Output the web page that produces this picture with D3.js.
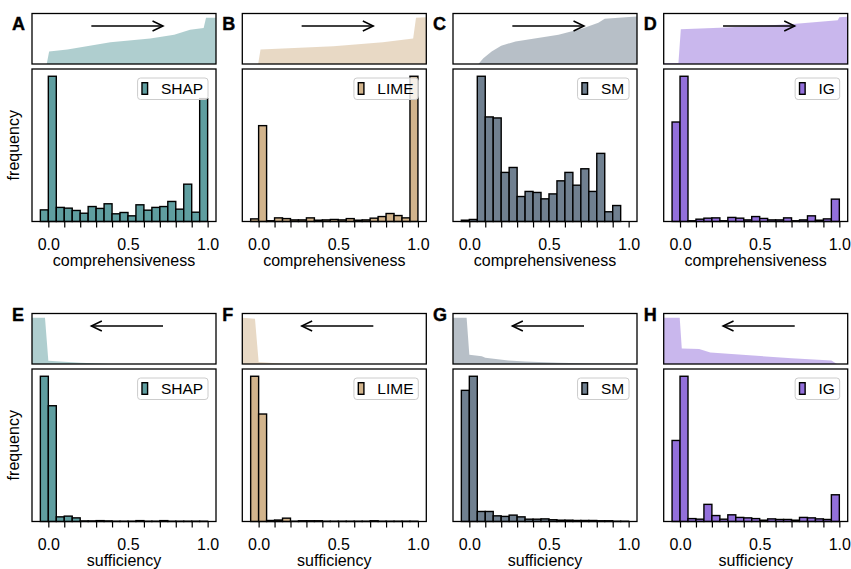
<!DOCTYPE html>
<html>
<head>
<meta charset="utf-8">
<script src="https://cdn.jsdelivr.net/npm/d3@7"></script>
<style>
body { margin: 0; background: #fff; }
svg { display: block; font-family: "Liberation Sans", Arial, sans-serif; }
.tick text { font-size: 16px; fill: #000; }
.label { font-size: 16px; fill: #000; }
.letter { font-size: 18px; font-weight: bold; fill: #000; stroke: #000; stroke-width: 0.4; }
.legend-text { font-size: 15.5px; fill: #000; }
</style>
</head>
<body>
<svg id="chart" width="851" height="569"></svg>
<script>
// histogram bins: left edges, width 0.05
const BIN_LEFT = [-0.05, 0.0, 0.05, 0.1, 0.15, 0.2, 0.25, 0.3, 0.35, 0.4, 0.45,
                  0.5, 0.55, 0.6, 0.65, 0.7, 0.75, 0.8, 0.85, 0.9, 0.95];
const BIN_WIDTH = 0.05;

const METHODS = ["SHAP", "LIME", "SM", "IG"];
const COLORS = ["#5f9ea0", "#d2b48c", "#708090", "#9370db"];
const ROW_LABELS = ["comprehensiveness", "sufficiency"];
const LETTERS = [["A", "B", "C", "D"], ["E", "F", "G", "H"]];

// relative frequencies (tallest bar = 100)
const COMP_SHAP = [8, 100, 9.7, 9.2, 7.6, 5.7, 10.3, 9, 12.2, 5.3, 6.2, 3.9, 11.5, 7.8, 9.7, 10.3, 13.8, 8.5, 25.7, 6.4, 84.6];
const COMP_LIME = [1.8, 66, 0.5, 2.5, 2, 1.1, 1.1, 2.5, 0.9, 1.1, 1.4, 1.1, 2, 0.9, 1.1, 2.3, 3.4, 5.5, 4.1, 2.5, 100];
const COMP_SM = [0.9, 1.4, 100, 72, 71.3, 33.8, 37.2, 17.2, 20.7, 20, 15.6, 19, 28, 33.8, 25, 36.3, 20.7, 46.9, 6.7, 11, 0];
const COMP_IG = [68.5, 100, 0.5, 1.6, 2.3, 2.5, 0.5, 2.8, 2.3, 1.1, 3.4, 2.1, 1.1, 1.1, 2.5, 0.5, 1.1, 3.9, 0.9, 1.8, 15.4];
const SUFF_SHAP = [100, 79.7, 3.2, 3.7, 2.5, 0.4, 0.4, 0.6, 0.4, 0.2, 0.2, 0.2, 0.6, 0.2, 0.2, 0.6, 0.2, 0.2, 0.2, 0.2, 0.2];
const SUFF_LIME = [100, 74, 0.7, 1, 2.3, 0.2, 0.5, 0.5, 0.5, 0.2, 0.2, 0.2, 0.2, 0.2, 0.2, 0.5, 0.2, 0.2, 0.2, 0.2, 0.2];
const SUFF_SM = [90.3, 100, 6.9, 6.9, 3.9, 3.5, 4.4, 3.2, 1.6, 1.6, 1.8, 1.2, 0.9, 0.9, 0.7, 0.7, 0.7, 0.5, 0.5, 0.2, 0.2];
const SUFF_IG = [55.8, 100, 2, 1.6, 11.8, 4.1, 1.6, 4.6, 2.8, 2.5, 2, 0.9, 1.8, 1.4, 1.4, 0.9, 2.8, 2.5, 1.8, 1.4, 18.4];

// cumulative curves in the small top panels: [value, fraction]
const COMP_SHAP_CURVE = [[-0.1025, 0], [-0.01, 0], [0.005, 0.26], [0.12, 0.30], [0.39, 0.45], [0.64, 0.53],
                         [0.79, 0.61], [0.89, 0.71], [0.975, 0.75], [0.99, 0.96], [1.0525, 0.96]];
const COMP_LIME_CURVE = [[-0.1025, 0], [-0.003, 0], [0.012, 0.30], [0.47, 0.37], [0.78, 0.45],
                         [0.97, 0.53], [0.988, 0.96], [1.0525, 0.97]];
const COMP_SM_CURVE = [[-0.1025, 0], [0.057, 0], [0.088, 0.12], [0.14, 0.26], [0.20, 0.38], [0.29, 0.47],
                       [0.41, 0.53], [0.56, 0.61], [0.71, 0.74], [0.81, 0.86], [0.85, 0.94], [0.98, 0.97], [1.0525, 0.99]];
const COMP_IG_CURVE = [[-0.1025, 0.02], [-0.01, 0.02], [0.005, 0.72], [0.29, 0.76], [0.71, 0.83],
                       [0.99, 0.91], [1.0, 0.97], [1.0525, 0.98]];
const SUFF_SHAP_CURVE = [[-0.1025, 0.96], [-0.021, 0.96], [0.0, 0.07], [0.2, 0.027], [0.39, 0], [1.0525, 0]];
const SUFF_LIME_CURVE = [[-0.1025, 0.96], [-0.023, 0.94], [0.0, 0.04], [0.155, 0.007], [0.22, 0], [1.0525, 0]];
const SUFF_SM_CURVE = [[-0.1025, 0.96], [-0.017, 0.96], [0.0, 0.19], [0.078, 0.16], [0.1, 0.13], [0.245, 0.073],
                       [0.35, 0.053], [0.56, 0.027], [0.77, 0.013], [0.98, 0.007], [1.0525, 0]];
const SUFF_IG_CURVE = [[-0.1025, 0.96], [-0.002, 0.96], [0.011, 0.32], [0.12, 0.31], [0.19, 0.24], [0.39, 0.19],
                       [0.70, 0.12], [0.95, 0.073], [0.985, 0], [1.0525, 0]];

// arrows in top panels: [from, to] in value units, at height ARROW_Y
const COMP_ARROW = [0.27, 0.72];
const SUFF_ARROW = [0.72, 0.27];
const ARROW_Y = 0.79;

const MAJOR_TICKS = [0.0, 0.5, 1.0];
const TICK_LABELS = ["0.0", "0.5", "1.0"];
const MINOR_TICKS = [0.1, 0.2, 0.3, 0.4, 0.6, 0.7, 0.8, 0.9];
const X_DOMAIN = [-0.1025, 1.0525];

const HISTS = [[COMP_SHAP, COMP_LIME, COMP_SM, COMP_IG], [SUFF_SHAP, SUFF_LIME, SUFF_SM, SUFF_IG]];
const CURVES = [[COMP_SHAP_CURVE, COMP_LIME_CURVE, COMP_SM_CURVE, COMP_IG_CURVE],
                [SUFF_SHAP_CURVE, SUFF_LIME_CURVE, SUFF_SM_CURVE, SUFF_IG_CURVE]];
const ARROWS = [COMP_ARROW, SUFF_ARROW];

// layout
const COL_X = [32, 242.3, 453, 663.7];
const PANEL_W = 184;
const ROW_TOP = [13.5, 313.5];
const TOP_H = 50.5;
const GAP = 5;
const MAIN_H = 152.5;
const LETTER_BASELINE = [30, 320.5];

var svg = d3.select("#chart");

var defs = svg.append("defs");
defs.append("marker")
    .attr("id", "arrowhead")
    .attr("markerUnits", "userSpaceOnUse")
    .attr("viewBox", "-13 -7 15 14")
    .attr("refX", 0)
    .attr("refY", 0)
    .attr("markerWidth", 15)
    .attr("markerHeight", 14)
    .attr("orient", "auto")
    .append("path")
    .attr("d", "M-10.5,-5L0,0L-10.5,5")
    .attr("fill", "none")
    .attr("stroke", "#000")
    .attr("stroke-width", 1.5);

for (var r = 0; r < 2; r++) {
    for (var c = 0; c < 4; c++) {
        var x0 = COL_X[c];
        var topY = ROW_TOP[r];
        var mainY = topY + TOP_H + GAP;
        var color = COLORS[c];

        var x = d3.scaleLinear().domain(X_DOMAIN).range([x0, x0 + PANEL_W]);

        // ---- small top panel
        var yTop = d3.scaleLinear().domain([0, 1.05]).range([topY + TOP_H, topY]);
        var area = d3.area()
            .x(function(d) { return x(d[0]); })
            .y0(yTop(0))
            .y1(function(d) { return yTop(d[1]); });
        svg.append("path")
            .datum(CURVES[r][c])
            .attr("d", area)
            .attr("fill", color)
            .attr("fill-opacity", 0.5);

        var arr = ARROWS[r];
        svg.append("line")
            .attr("x1", x(arr[0]))
            .attr("x2", x(arr[1]))
            .attr("y1", yTop(ARROW_Y))
            .attr("y2", yTop(ARROW_Y))
            .attr("stroke", "#000")
            .attr("stroke-width", 1.5)
            .attr("marker-end", "url(#arrowhead)");

        svg.append("rect")
            .attr("x", x0).attr("y", topY)
            .attr("width", PANEL_W).attr("height", TOP_H)
            .attr("fill", "none").attr("stroke", "#000").attr("stroke-width", 1.3);

        svg.append("text")
            .attr("class", "letter")
            .attr("x", x0 - 20)
            .attr("y", LETTER_BASELINE[r])
            .text(LETTERS[r][c]);

        // ---- histogram
        var counts = HISTS[r][c];
        var y = d3.scaleLinear()
            .domain([0, d3.max(counts) * 1.05])
            .range([mainY + MAIN_H, mainY]);

        svg.append("g")
            .selectAll("rect")
            .data(counts)
            .enter()
            .append("rect")
            .attr("x", function(d, i) { return x(BIN_LEFT[i]); })
            .attr("width", function(d, i) { return x(BIN_LEFT[i] + BIN_WIDTH) - x(BIN_LEFT[i]); })
            .attr("y", function(d) { return y(d); })
            .attr("height", function(d) { return y(0) - y(d); })
            .attr("fill", color)
            .attr("stroke", "#000")
            .attr("stroke-width", 1.4);

        var axis = d3.axisBottom(x)
            .tickValues(MAJOR_TICKS.concat(MINOR_TICKS))
            .tickSize(6)
            .tickPadding(11)
            .tickFormat(function(d) {
                var k = MAJOR_TICKS.indexOf(d);
                return k >= 0 ? TICK_LABELS[k] : "";
            });
        var axisG = svg.append("g")
            .attr("transform", "translate(0," + (mainY + MAIN_H) + ")")
            .call(axis);
        axisG.select(".domain").remove();
        axisG.selectAll(".tick line").attr("stroke", "#000").attr("stroke-width", 1.2);
        axisG.selectAll(".tick text").attr("font-family", "Liberation Sans, Arial, sans-serif");

        svg.append("rect")
            .attr("x", x0).attr("y", mainY)
            .attr("width", PANEL_W).attr("height", MAIN_H)
            .attr("fill", "none").attr("stroke", "#000").attr("stroke-width", 1.3);

        svg.append("text")
            .attr("class", "label")
            .attr("x", x0 + PANEL_W / 2)
            .attr("y", mainY + MAIN_H + 44)
            .attr("text-anchor", "middle")
            .text(ROW_LABELS[r]);

        if (c === 0) {
            svg.append("text")
                .attr("class", "label")
                .attr("transform", "translate(18.5," + (mainY + MAIN_H / 2) + ") rotate(-90)")
                .attr("text-anchor", "middle")
                .text("frequency");
        }

        // ---- legend
        var legend = svg.append("g");
        var legendBox = legend.append("rect")
            .attr("rx", 3).attr("ry", 3)
            .attr("fill", "#fff").attr("fill-opacity", 0.8)
            .attr("stroke", "#cccccc").attr("stroke-width", 1);
        var legendText = legend.append("text")
            .attr("class", "legend-text")
            .text(METHODS[c]);
        var tw = legendText.node().getComputedTextLength();
        var lw = 4.4 + 5.6 + 13.4 + tw + 4.8;
        var lh = 21.5;
        var lx = x0 + PANEL_W - 8 - lw;
        var ly = mainY + 9;
        legendBox.attr("x", lx).attr("y", ly).attr("width", lw).attr("height", lh);
        legend.append("rect")
            .attr("x", lx + 4.4).attr("y", ly + 4.7)
            .attr("width", 5.6).attr("height", 11.6)
            .attr("fill", color).attr("stroke", "#000").attr("stroke-width", 1.4);
        legendText.attr("x", lx + 4.4 + 5.6 + 13.4).attr("y", ly + 16.2);
    }
}
</script>
</body>
</html>
